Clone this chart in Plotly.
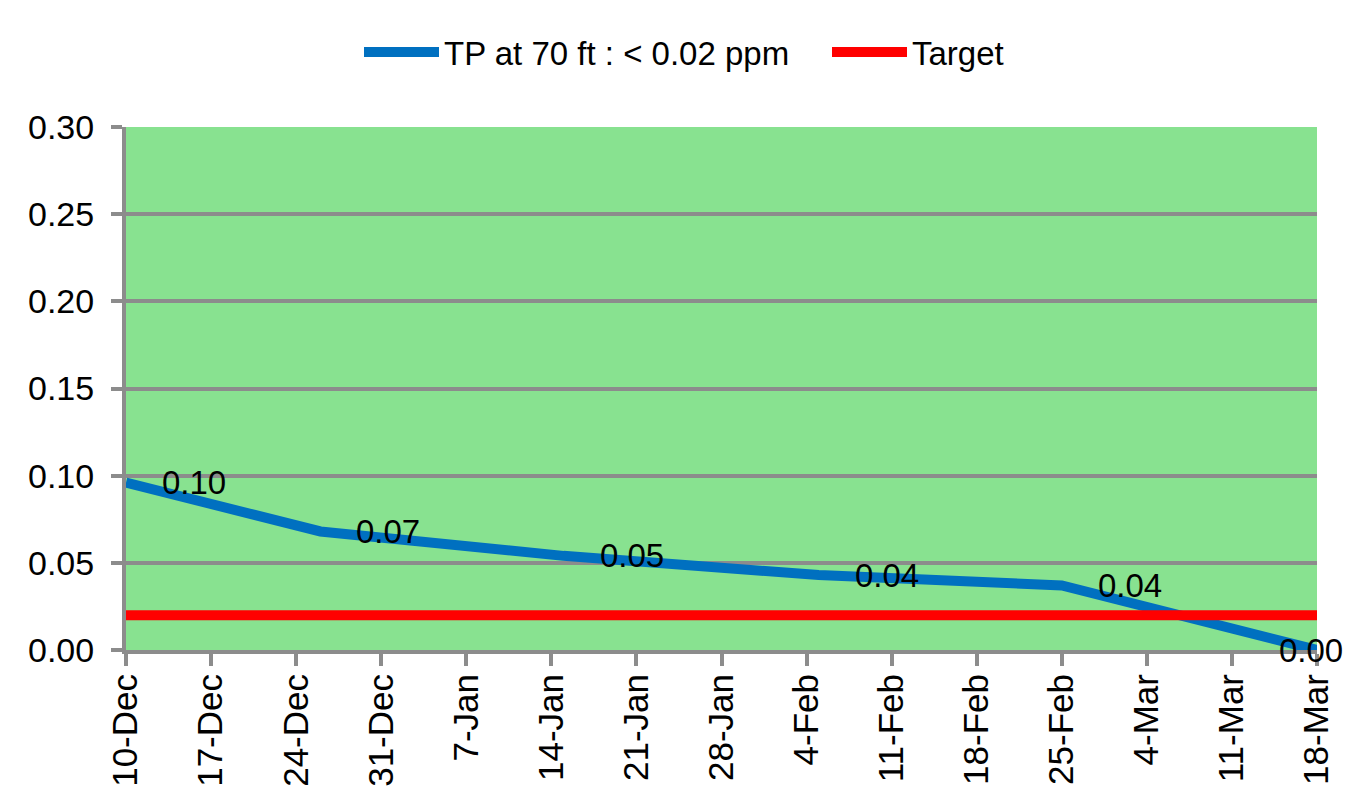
import plotly.graph_objects as go

dates = ["2024-12-10", "2024-12-26", "2025-01-15", "2025-02-05", "2025-02-25", "2025-03-18"]
tp_values = [0.096, 0.068, 0.054, 0.043, 0.037, 0.000]
label_texts = ["0.10", "0.07", "0.05", "0.04", "0.04", "0.00"]
target_dates = ["2024-12-10", "2025-03-18"]
target_values = [0.02, 0.02]
tick_dates = ["2024-12-10", "2024-12-17", "2024-12-24", "2024-12-31", "2025-01-07",
              "2025-01-14", "2025-01-21", "2025-01-28", "2025-02-04", "2025-02-11",
              "2025-02-18", "2025-02-25", "2025-03-04", "2025-03-11", "2025-03-18"]
tick_labels = ["10-Dec", "17-Dec", "24-Dec", "31-Dec", "7-Jan", "14-Jan", "21-Jan",
               "28-Jan", "4-Feb", "11-Feb", "18-Feb", "25-Feb", "4-Mar", "11-Mar", "18-Mar"]
y_ticks = [0.00, 0.05, 0.10, 0.15, 0.20, 0.25, 0.30]

FONT = "Liberation Sans, Arial, sans-serif"
GRID = "#8c8c8c"
W, H = 1352, 800

fig = go.Figure()
fig.add_trace(go.Scatter(x=dates, y=tp_values, mode="lines", name="TP at 70 ft : < 0.02 ppm",
                         line=dict(color="#0070C0", width=10), legend="legend"))
fig.add_trace(go.Scatter(x=target_dates, y=target_values, mode="lines", name="Target",
                         line=dict(color="#FF0000", width=10), legend="legend2"))

for i, (d, v, t) in enumerate(zip(dates, tp_values, label_texts)):
    last = i == len(dates) - 1
    fig.add_annotation(x=d, y=v, text=t, showarrow=False,
                       xanchor="right" if last else "left", yanchor="middle",
                       xshift=28 if last else 34, yshift=0,
                       font=dict(family=FONT, size=33, color="black"))

legend_common = dict(orientation="h", yanchor="middle", yref="container", xref="container",
                     xanchor="left", font=dict(family=FONT, size=33), itemwidth=75,
                     bgcolor="rgba(0,0,0,0)")
fig.update_layout(
    width=W, height=H,
    margin=dict(l=118, r=43, t=119, b=158),
    paper_bgcolor="white", plot_bgcolor="#88E290",
    font=dict(family=FONT, color="black"),
    showlegend=True,
    legend=dict(x=(359 - 8) / W, y=1 - 44 / H, **legend_common),
    legend2=dict(x=(827 - 8) / W, y=1 - 44 / H, **legend_common),
)

fig.update_xaxes(type="date", range=["2024-12-10", "2025-03-18"],
                 tickvals=tick_dates, ticktext=tick_labels, tickangle=-90,
                 tickfont=dict(family=FONT, size=35), showgrid=False, zeroline=False,
                 showline=True, linecolor=GRID, linewidth=4,
                 ticks="outside", ticklen=12, tickwidth=4, tickcolor=GRID,
                 ticklabelstandoff=-6)
fig.update_yaxes(range=[0, 0.30], tickvals=y_ticks, tickformat=".2f",
                 tickfont=dict(family=FONT, size=34), showgrid=True, gridcolor=GRID,
                 gridwidth=4, zeroline=False, showline=True, linecolor=GRID, linewidth=4,
                 ticks="outside", ticklen=11, tickwidth=4, tickcolor=GRID,
                 ticklabelstandoff=10)

fig.write_html("out.html")
